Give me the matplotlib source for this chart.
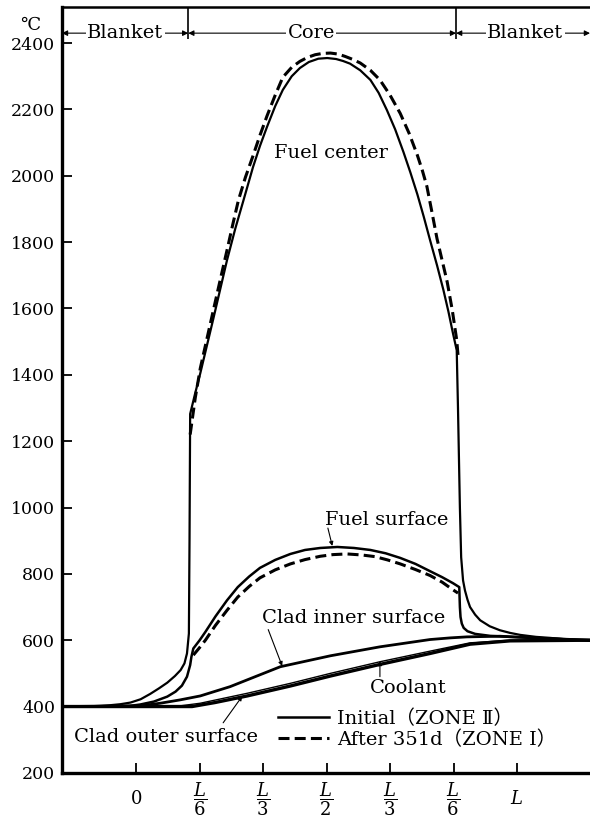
import matplotlib
matplotlib.use('Agg')
import matplotlib.pyplot as plt
from matplotlib.lines import Line2D

plt.rcParams['font.family'] = ['DejaVu Serif', 'Noto Sans CJK JP']
plt.rcParams['mathtext.fontset'] = 'dejavuserif'

# axial position in units of the tick spacing (0 .. L), temperature in deg C
x_ticks = [0, 1, 2, 3, 4, 5, 6]
x_labels = ['0', r'$\dfrac{L}{6}$', r'$\dfrac{L}{3}$', r'$\dfrac{L}{2}$',
            r'$\dfrac{L}{3}$', r'$\dfrac{L}{6}$', r'$L$']
y_ticks = [200, 400, 600, 800, 1000, 1200, 1400, 1600, 1800, 2000, 2200, 2400]

core_start = 0.82
core_end = 5.04

# fuel center, initial
fc_x = [-1.17, -0.83, -0.57, -0.41, -0.25, -0.09, 0.07, 0.22, 0.36, 0.49, 0.61,
        0.70, 0.76, 0.80, 0.83, 0.84, 0.85, 0.93, 1.01, 1.11, 1.21, 1.32, 1.43,
        1.56, 1.69, 1.84, 1.95, 2.06, 2.19, 2.31, 2.45, 2.58, 2.72, 2.87, 3.01,
        3.15, 3.26, 3.37, 3.53, 3.69, 3.82, 3.95, 4.08, 4.21, 4.32, 4.43, 4.53,
        4.63, 4.74, 4.84, 4.92, 4.99, 5.05, 5.07, 5.10, 5.12, 5.15, 5.18, 5.22,
        5.26, 5.34, 5.42, 5.57, 5.73, 5.89, 6.05, 6.30, 6.52, 6.80, 7.15]
fc_y = [400, 400, 402, 404, 407, 412, 422, 438, 455, 472, 492,
        510, 530, 560, 620, 900, 1282, 1345, 1405, 1485, 1565, 1655, 1745,
        1840, 1926, 2026, 2090, 2147, 2210, 2259, 2300, 2325, 2343, 2353, 2355,
        2352, 2346, 2338, 2318, 2289, 2250, 2198, 2140, 2072, 2010, 1944, 1877,
        1806, 1730, 1656, 1590, 1526, 1474, 1300, 1000, 850, 780, 750, 722,
        700, 677, 660, 642, 630, 622, 616, 610, 607, 602, 598]

# fuel center, after 351 d
fc2_x = [0.85, 0.93, 1.01, 1.11, 1.21, 1.32, 1.43, 1.52, 1.61, 1.72, 1.84, 1.95,
         2.06, 2.19, 2.31, 2.45, 2.58, 2.70, 2.82, 2.94, 3.06, 3.18, 3.29, 3.41,
         3.53, 3.69, 3.84, 4.00, 4.16, 4.30, 4.43, 4.51, 4.58, 4.66, 4.74, 4.82,
         4.90, 4.98, 5.05, 5.07]
fc2_y = [1220, 1330, 1420, 1505, 1590, 1683, 1775, 1852, 1926, 1995, 2060, 2122,
         2180, 2243, 2297, 2327, 2345, 2357, 2365, 2369, 2370, 2367, 2360, 2351,
         2340, 2318, 2289, 2243, 2188, 2128, 2062, 2015, 1968, 1890, 1810, 1745,
         1680, 1595, 1505, 1460]

# fuel surface, initial
fs_x = [-1.17, -0.41, -0.10, 0.06, 0.28, 0.49, 0.62, 0.72, 0.80, 0.85, 0.87, 0.90,
        1.00, 1.09, 1.25, 1.43, 1.60, 1.78, 1.95, 2.19, 2.43, 2.66, 2.90, 3.17,
        3.43, 3.69, 3.93, 4.16, 4.40, 4.63, 4.82, 4.99, 5.09, 5.10, 5.11, 5.13,
        5.16, 5.22, 5.34, 5.58, 5.89, 6.36, 7.15]
fs_y = [400, 400, 402, 406, 415, 430, 445, 463, 490, 525, 550, 575,
        600, 625, 672, 720, 760, 792, 818, 842, 860, 872, 878, 881,
        878, 872, 862, 848, 830, 808, 790, 772, 760, 700, 670, 650,
        637, 627, 619, 613, 610, 606, 600]

# fuel surface, after 351 d
fs2_x = [0.90, 1.00, 1.09, 1.25, 1.43, 1.60, 1.78, 1.95, 2.19, 2.43, 2.66, 2.90,
         3.10, 3.32, 3.55, 3.76, 3.96, 4.16, 4.40, 4.63, 4.82, 4.99, 5.07]
fs2_y = [555, 578, 600, 645, 690, 730, 762, 788, 812, 830, 843, 853,
         858, 860, 857, 852, 842, 830, 813, 795, 775, 752, 742]

# clad inner surface
ci_x = [-1.17, 0.06, 0.38, 0.69, 1.01, 1.48, 2.27, 3.06, 3.84, 4.63, 4.95, 5.21,
        5.73, 6.36, 7.15]
ci_y = [400, 402, 410, 420, 432, 460, 520, 553, 580, 602, 607, 610,
        612, 606, 600]

# clad outer surface
co_x = [-1.17, 0.88, 1.24, 1.75, 2.43, 3.06, 3.84, 4.63, 5.26, 5.89, 7.15]
co_y = [400, 400, 412, 432, 462, 492, 527, 560, 588, 598, 600]

# coolant
cl_x = [-1.17, 0.61, 1.01, 1.75, 2.43, 3.06, 3.84, 4.63, 5.26, 5.89, 7.15]
cl_y = [400, 400, 410, 440, 470, 500, 535, 567, 592, 600, 600]

fig = plt.figure(figsize=(5.9, 8.17), dpi=100)
ax = fig.add_axes([0.105, 0.054, 0.895, 0.9375])
ax.set_xlim(-1.17, 7.15)
ax.set_ylim(200, 2509)

dash = (3.6, 1.7)
ax.plot(fc_x, fc_y, color='black', lw=1.6)
ax.plot(fc2_x, fc2_y, color='black', lw=2.2, dashes=dash)
ax.plot(fs_x, fs_y, color='black', lw=1.8)
ax.plot(fs2_x, fs2_y, color='black', lw=2.2, dashes=dash)
ax.plot(ci_x, ci_y, color='black', lw=2.0)
ax.plot(co_x, co_y, color='black', lw=2.4)
ax.plot(cl_x, cl_y, color='black', lw=1.0)

# curve labels
fs_lab = 14
txt = dict(fontsize=fs_lab, ha='center', va='center')
arrow = dict(arrowstyle='-|>', color='black', lw=0.8, mutation_scale=6,
             shrinkA=0, shrinkB=0)
ax.text(3.07, 2069, 'Fuel center', **txt)
ax.text(3.95, 961, 'Fuel surface', **txt)
ax.annotate('', xy=(3.09, 884), xytext=(3.02, 938), arrowprops=arrow)
ax.text(3.42, 667, 'Clad inner surface', **txt)
ax.annotate('', xy=(2.30, 522), xytext=(2.08, 632), arrowprops=arrow)
ax.text(4.28, 456, 'Coolant', **txt)
ax.annotate('', xy=(3.84, 537), xytext=(3.84, 490), arrowprops=arrow)
ax.text(0.47, 308, 'Clad outer surface', **txt)
ax.annotate('', xy=(1.67, 431), xytext=(1.37, 351), arrowprops=arrow)

# region markers along the top
head_y = 2430
ax.vlines([core_start, core_end], 2413, 2509, color='black', lw=1.2)
both = dict(arrowstyle='<|-|>', color='black', lw=0.8, mutation_scale=8,
            shrinkA=0, shrinkB=0)
box = dict(facecolor='white', edgecolor='none', pad=1)
for a, b, name, xc in [(-1.17, core_start, 'Blanket', -0.17),
                       (core_start, core_end, 'Core', 2.76),
                       (core_end, 7.15, 'Blanket', 6.13)]:
    ax.annotate('', xy=(a, head_y), xytext=(b, head_y), arrowprops=both)
    ax.text(xc, head_y, name, fontsize=fs_lab, ha='center', va='center', bbox=box)

handles = [Line2D([], [], color='black', lw=1.8),
           Line2D([], [], color='black', lw=2.2, dashes=dash)]
ax.legend(handles, ['Initial（ZONE Ⅱ）', 'After 351d（ZONE Ⅰ）'],
          loc='upper left', bbox_to_anchor=(0.41, 0.083), frameon=False,
          fontsize=fs_lab, handlelength=2.6, handletextpad=0.4,
          labelspacing=0.12, borderpad=0, borderaxespad=0)

ax.set_yticks(y_ticks)
ax.set_yticklabels([str(v) for v in y_ticks], fontsize=12.5)
ax.set_xticks(x_ticks)
ax.set_xticklabels(x_labels, fontsize=13)
for lab in ax.get_xticklabels():
    lab.set_va('center')
ax.tick_params(axis='both', direction='in', length=7, width=1.3)
ax.tick_params(axis='x', pad=19)
ax.tick_params(axis='y', pad=5)

ax.spines['right'].set_visible(False)
ax.spines['left'].set_linewidth(2.4)
ax.spines['bottom'].set_linewidth(2.4)
ax.spines['top'].set_linewidth(1.8)

fig.text(0.052, 0.969, '℃', fontsize=13, ha='center', va='center')

fig.savefig('out.png', dpi=100)
